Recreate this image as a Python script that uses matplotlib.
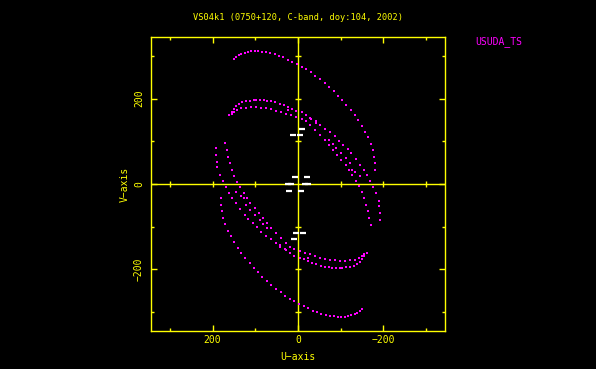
import matplotlib
matplotlib.use("Agg")
import matplotlib.pyplot as plt
import numpy as np

# uv tracks (one half; the conjugate half is added below)
trackA_u = [148.6, 144.0, 137.7, 132.3, 124.5, 116.7, 109.0, 101.2, 93.4, 83.3, 73.9, 64.6,
            54.5, 44.4, 35.0, 23.3, 13.2, 2.3, -8.6, -19.5, -29.6, -40.5, -51.4, -62.3,
            -72.4, -83.3, -93.4, -103.5, -112.8, -123.0, -132.3, -140.9, -149.4, -157.2,
            -164.2, -170.4, -175.1, -179.0, -179.8, -179.8]
trackA_v = [292.6, 298.0, 301.0, 304.3, 307.4, 309.7, 311.3, 312.0, 311.3, 309.7, 308.2, 306.6,
            303.5, 300.4, 296.5, 290.3, 286.4, 280.9, 274.7, 268.5, 261.5, 253.7, 245.9, 237.4,
            228.0, 217.1, 207.0, 196.1, 185.2, 173.5, 161.1, 148.6, 135.4, 122.2,
            109.0, 94.2, 80.2, 63.8, 49.0, 33.5]

trackB_u = [161.1, 155.6, 149.4, 144.0, 137.7, 130.0, 122.2, 112.8, 103.5, 97.3, 89.5, 80.2,
            71.6, 62.3, 52.9, 42.8, 32.7, 23.3, 13.2, 3.9, -8.6, -19.5, -31.1, -41.2, -50.6,
            -62.3, -73.9, -85.6, -95.7, -105.1, -116.0, -124.5, -134.6, -145.5, -155.6,
            -162.6, -168.9, -175.1, -182.9, -189.1, -190.7, -192.2, -192.2]
trackB_v = [161.9, 169.6, 175.9, 182.1, 187.5, 191.4, 193.8, 195.3, 196.9, 197.7, 196.9, 196.1,
            195.3, 193.8, 191.4, 188.3, 184.4, 180.5, 175.9, 172.0, 168.1, 160.3, 152.5, 146.3,
            138.5, 129.2, 120.6, 111.3, 101.2, 91.8, 81.7, 72.4, 58.4, 45.1, 33.5,
            20.2, 7.8, -7.8, -21.0, -38.9, -52.1, -67.7, -83.3]

trackC_u = [155.6, 149.4, 141.6, 132.3, 122.2, 110.5, 98.8, 87.2, 75.5, 63.8, 52.1, 40.5,
            28.8, 17.1, 5.4, -10.1, -19.5, -27.2, -38.9, -50.6, -62.3, -72.4, -81.7, -91.1,
            -101.2, -111.3, -119.1, -126.8, -136.2, -142.4, -148.6, -153.3, -159.5,
            -164.2, -167.3, -170.4]
trackC_v = [164.2, 169.6, 174.3, 177.4, 179.0, 179.8, 179.8, 179.0, 177.4, 175.1, 172.0, 168.1,
            164.2, 160.3, 156.4, 152.5, 146.3, 138.5, 126.8, 115.2, 103.5, 91.8, 80.2, 68.5,
            56.8, 45.1, 33.5, 20.2, 6.2, -5.4, -18.7, -32.7, -48.2,
            -63.8, -79.4, -94.9]

# scattered extra points between tracks B and C
trackD_u = [23.3, -27.3, -42.9, -72.4, -81.7, -89.6, -101.3, -113.0, -120.7, -126.0, -132.3, -144.0]
trackD_v = [173.4, 154.0, 142.3, 101.8, 94.0, 84.0, 72.3, 60.7, 49.0, 33.4, 27.0, 19.4]

# ground-ground baselines
ground_u = [11.7, -5.4, -10.1, 7.8, -21.0, 23.3, -15.6]
ground_v = [115.2, 113.6, 129.2, 15.6, 15.6, 0.0, 0.8]

title = "VS04k1 (0750+120, C-band, doy:104, 2002)"
station = "USUDA_TS"
major_ticks = [-200, 0, 200]
minor_ticks = [-300, -100, 100, 300]
lim = 344

yellow = "#ffff00"
magenta = "#ff00ff"
mono = "DejaVu Sans Mono"

space_u = np.array(trackA_u + trackB_u + trackC_u + trackD_u)
space_v = np.array(trackA_v + trackB_v + trackC_v + trackD_v)
gu = np.array(ground_u)
gv = np.array(ground_v)

fig = plt.figure(figsize=(5.96, 3.69), dpi=100, facecolor="black")
ax = fig.add_axes([151 / 596, 1 - 331 / 369, 294 / 596, 294 / 369], facecolor="black")

ax.scatter(np.concatenate([space_u, -space_u]), np.concatenate([space_v, -space_v]),
           s=2.2, marker="s", c=magenta, linewidths=0, zorder=3)
ax.plot(np.concatenate([gu, -gu]), np.concatenate([gv, -gv]), ls="none",
        marker="_", ms=5, mew=1.6, color="white", zorder=3)

ax.axhline(0, color=yellow, lw=1, zorder=2)
ax.axvline(0, color=yellow, lw=1, zorder=2)
# ticks on the centre lines
nz = [t for t in major_ticks if t != 0]
ax.plot([0] * len(nz), nz, ls="none", marker="_", ms=5, mew=1, color=yellow)
ax.plot(nz, [0] * len(nz), ls="none", marker="|", ms=5, mew=1, color=yellow)
ax.plot([0] * len(minor_ticks), minor_ticks, ls="none", marker="_", ms=4, mew=1, color=yellow)
ax.plot(minor_ticks, [0] * len(minor_ticks), ls="none", marker="|", ms=4, mew=1, color=yellow)

ax.set_xlim(lim, -lim)
ax.set_ylim(-lim, lim)
for s in ax.spines.values():
    s.set_color(yellow)
    s.set_linewidth(1)

ax.set_xticks(major_ticks)
ax.set_xticklabels([str(t).replace("-", "\u2212") for t in major_ticks])
ax.set_yticks(major_ticks)
ax.set_yticklabels([str(t).replace("-", "\u2212") for t in major_ticks],
                   rotation=90, va="center")
ax.set_xticks(minor_ticks, minor=True)
ax.set_yticks(minor_ticks, minor=True)
ax.tick_params(which="both", direction="in", colors=yellow, top=True, right=True,
               labelsize=7, width=1)
ax.tick_params(which="major", length=4)
ax.tick_params(which="minor", length=2)
ax.tick_params(axis="x", pad=3)
ax.tick_params(axis="y", pad=5)
for lab in ax.get_xticklabels() + ax.get_yticklabels():
    lab.set_family(mono)

ax.set_xlabel("U\u2212axis", color=yellow, fontsize=7, family=mono, labelpad=5)
ax.set_ylabel("V\u2212axis", color=yellow, fontsize=7, family=mono, labelpad=3)

fig.text(298 / 596, 1 - 17 / 369, title, color=yellow, fontsize=6.2, family=mono,
         ha="center", va="center")
fig.text(475 / 596, 1 - 42 / 369, station, color=magenta, fontsize=7, family=mono,
         ha="left", va="center")

fig.savefig("out.png", dpi=100, facecolor="black")
